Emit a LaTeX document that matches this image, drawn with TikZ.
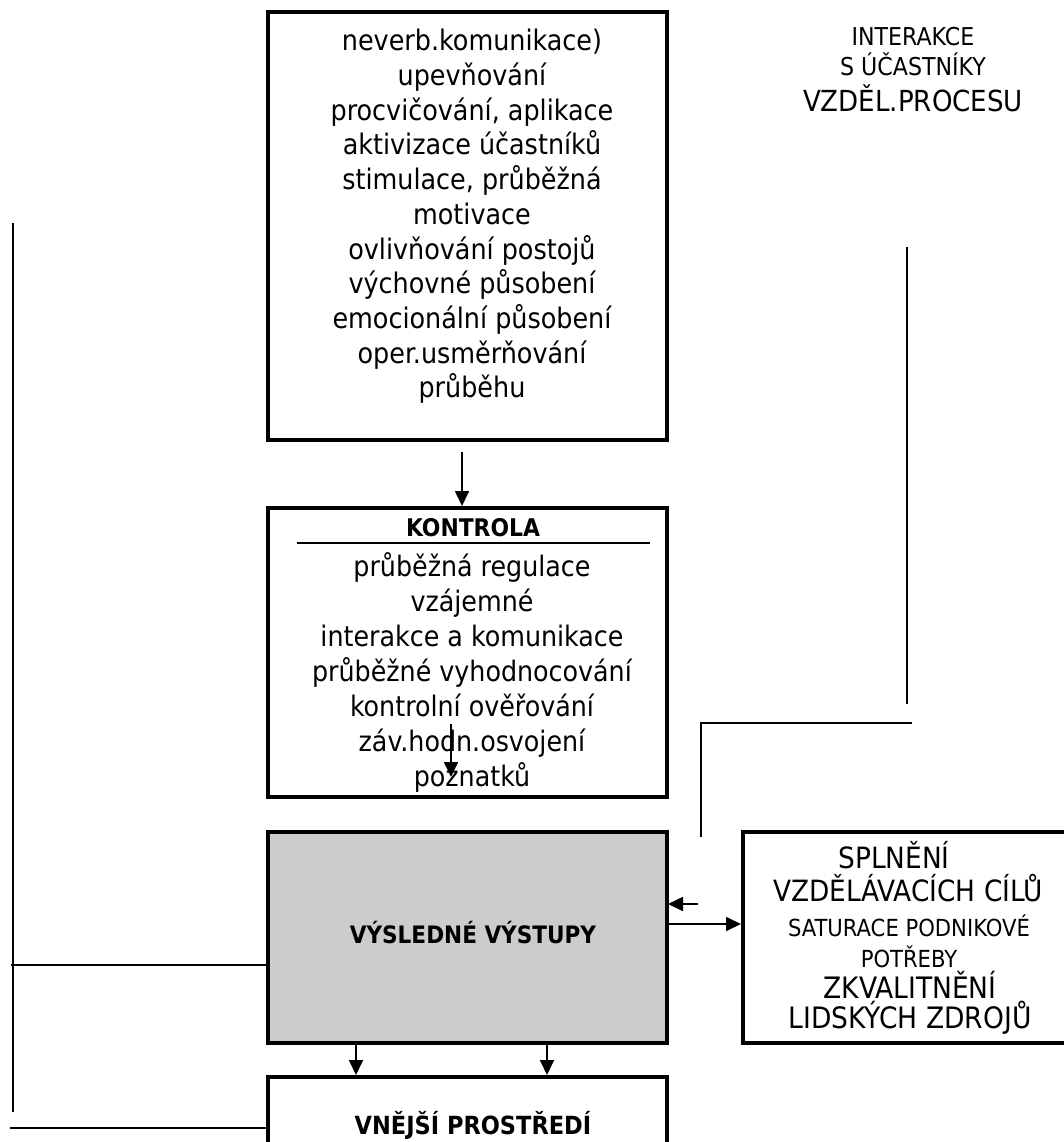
\documentclass[tikz,border=0pt]{standalone}
\usepackage{fontspec}
\setmainfont{DejaVu Sans Condensed}
\usetikzlibrary{arrows.meta}

\tikzset{
  box/.style={draw, line width=4pt, inner sep=0pt},
  link/.style={line width=1.7pt},
  arr/.style={link, -{Triangle[length=15pt,width=14pt]}},
  txt/.style={align=center, inner sep=0pt},
}

\begin{document}
\begin{tikzpicture}[x=1pt, y=-1pt]
  % page area
  \fill[white] (0,0) rectangle (1064,1142);
  \useasboundingbox (0,0) rectangle (1064,1142);

  % boxes
  \node[box, minimum width=399pt, minimum height=428pt] (top) at (467.5,226) {};
  \node[box, minimum width=399pt, minimum height=289pt] (ctrl) at (467.5,652.5) {};
  \node[box, fill=black!20, minimum width=399pt, minimum height=211pt] (out) at (467.5,937.5) {};
  \node[box, minimum width=399pt, minimum height=150pt] (env) at (467.5,1152) {};
  \node[box, minimum width=327pt, minimum height=211pt] (goal) at (906.5,937.5) {};

  % texts
  \node[txt, font=\fontsize{28.3}{34.7}\selectfont] (toptext) at (472,216.5)
    {neverb.komunikace)\\upevňování\\procvičování, aplikace\\aktivizace účastníků\\
     stimulace, průběžná\\motivace\\ovlivňování postojů\\ výchovné působení\\
     emocionální působení\\oper.usměrňování\\průběhu};

  \node[txt, font=\fontsize{24.3}{28}\selectfont\bfseries] (ctrltitle) at (473,528) {KONTROLA};
  \coordinate (sepl) at (297,543);
  \coordinate (sepr) at (650,543);
  \draw[link] (sepl) -- (sepr);
  \node[txt, font=\fontsize{28.2}{35}\selectfont] (ctrltext) at (472,672)
    {průběžná regulace\\vzájemné\\interakce a komunikace\\průběžné vyhodnocování\\
     kontrolní ověřování\\záv.hodn.osvojení\\poznatků};

  \node[txt, font=\fontsize{24}{28}\selectfont\bfseries] (outtext) at (473,933) {VÝSLEDNÉ VÝSTUPY};
  \node[txt, font=\fontsize{25}{28}\selectfont\bfseries] (envtext) at (473,1125) {VNĚJŠÍ PROSTŘEDÍ};

  \node[txt, font=\fontsize{29.3}{33}\selectfont] (goal1) at (908,871.5)
    {SPLNĚNÍ\hspace*{28pt}\\VZDĚLÁVACÍCH CÍLŮ};
  \node[txt, font=\fontsize{23.5}{31}\selectfont] (goal2) at (909,941.5) {SATURACE PODNIKOVÉ\\POTŘEBY};
  \node[txt, font=\fontsize{29.5}{30}\selectfont] (goal3) at (910,1003) {ZKVALITNĚNÍ\\LIDSKÝCH ZDROJŮ};

  \node[txt, font=\fontsize{24.6}{30}\selectfont] (inter) at (913,52) {INTERAKCE\\S ÚČASTNÍKY};
  \node[txt, font=\fontsize{29}{30}\selectfont] (vzdel) at (913,98) {VZDĚL.PROCESU};

  % connectors
  \draw[arr, shorten <=10pt] ([xshift=-5.5pt]top.south) -- ([xshift=-5.5pt]ctrl.north);
  \draw[arr] ([xshift=-16.5pt,yshift=75pt]ctrl.south) -- ([xshift=-16.5pt,yshift=22pt]ctrl.south);
  \draw[arr] ([xshift=-111.5pt]out.south) -- ([xshift=-111.5pt]env.north);
  \draw[arr] ([xshift=79.5pt]out.south) -- ([xshift=79.5pt]env.north);
  \draw[arr] ([xshift=-43pt,yshift=33.5pt]goal.west) -- ([xshift=-1pt,yshift=33.5pt]out.east);
  \draw[arr] ([xshift=-4pt,yshift=13.5pt]out.east) -- ([yshift=13.5pt]goal.west);

  % right-hand interaction lines
  \coordinate (rt) at (907,247);
  \coordinate (rb) at (907,704);
  \draw[link] (rt) -- (rb);
  \coordinate (hr) at (912,723);
  \coordinate (hl) at (701,723);
  \coordinate (hd) at (701,837);
  \draw[link] (hr) -- (hl) -- (hd);

  % left-hand feedback lines
  \coordinate (lt) at (13,223);
  \coordinate (lb) at (13,1112);
  \draw[link, line width=2pt] (lt) -- (lb);
  \draw[link, line width=2pt] ([yshift=-27.5pt]out.west) -- ++(-255pt,0);
  \draw[link, line width=2pt] ([yshift=24pt]env.west) -- ++(-256pt,0);
\end{tikzpicture}
\end{document}
